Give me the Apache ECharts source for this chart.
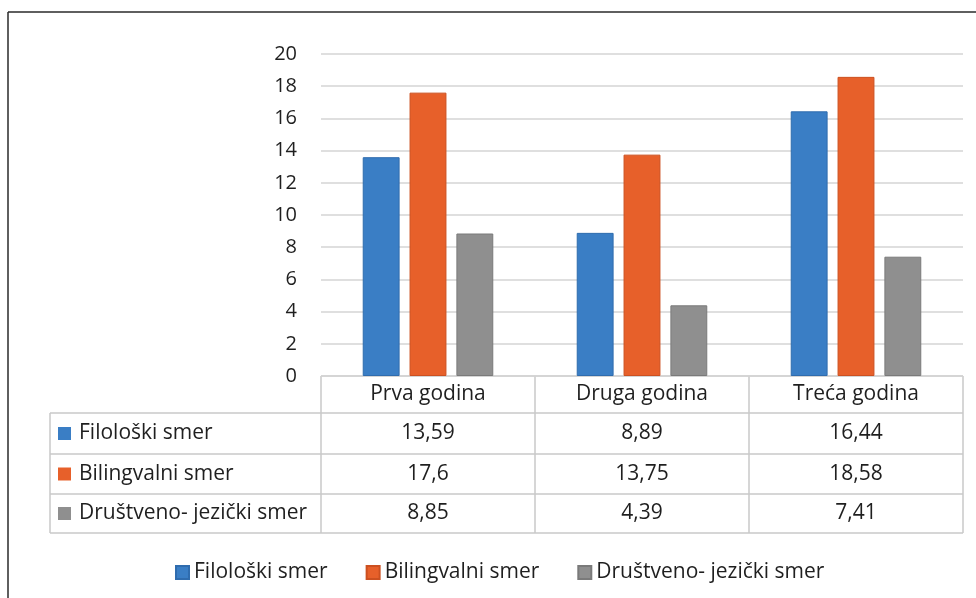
<!DOCTYPE html>
<html>
<head>
<meta charset="utf-8">
<script src="https://cdn.jsdelivr.net/npm/echarts@6/dist/echarts.min.js"></script>
<style>html,body{margin:0;padding:0;background:#fff;}#chart{width:976px;height:598px;}</style>
</head>
<body>
<div id="chart"></div>
<script>
const categories = ['Prva godina', 'Druga godina', 'Treća godina'];
const seriesNames = ['Filološki smer', 'Bilingvalni smer', 'Društveno- jezički smer'];
const filoloski = [13.59, 8.89, 16.44];
const bilingvalni = [17.6, 13.75, 18.58];
const drustveno = [8.85, 4.39, 7.41];
const yMin = 0, yMax = 20, yInterval = 2;

const colors = ['#3A7EC5', '#E7602A', '#8F8F8F'];
const borders = ['#2F6CAE', '#CC5020', '#7A7A7A'];
const seriesValues = [filoloski, bilingvalni, drustveno];

const FONT = '"Open Sans", sans-serif';
const FS = 21;
const AXFS = 20;
const TXT = '#1f1f1f';
const W = 976, H = 598;
const gridLeft = 321, gridRight = 963, gridTop = 54, gridBottom = 376;
const tableLeft = 50;
const rowEdges = [376, 413, 454, 494, 533];
const colW = (gridRight - gridLeft) / categories.length;
const lineColor = '#C8C8C8';

const fmt = v => String(v).replace('.', ',');

const chart = echarts.init(document.getElementById('chart'), null, {renderer: 'canvas'});

const g = [];
// outer frame
g.push({type: 'line', shape: {x1: 8, y1: 12, x2: W, y2: 12}, style: {stroke: '#2a2a2a', lineWidth: 1.5}, silent: true});
g.push({type: 'line', shape: {x1: 8, y1: 12, x2: 8, y2: H}, style: {stroke: '#2a2a2a', lineWidth: 1.5}, silent: true});
// table horizontal lines
g.push({type: 'line', shape: {x1: gridLeft, y1: rowEdges[0], x2: gridRight, y2: rowEdges[0]}, style: {stroke: lineColor, lineWidth: 1.5}});
for (let r = 1; r < rowEdges.length; r++) {
  g.push({type: 'line', shape: {x1: tableLeft, y1: rowEdges[r], x2: gridRight, y2: rowEdges[r]}, style: {stroke: lineColor, lineWidth: 1.5}});
}
// verticals
g.push({type: 'line', shape: {x1: tableLeft, y1: rowEdges[1], x2: tableLeft, y2: rowEdges[4]}, style: {stroke: lineColor, lineWidth: 1.5}});
for (let c = 0; c <= categories.length; c++) {
  const x = gridLeft + c * colW;
  g.push({type: 'line', shape: {x1: x, y1: rowEdges[0], x2: x, y2: rowEdges[4]}, style: {stroke: lineColor, lineWidth: 1.5}});
}
// header
categories.forEach((cat, c) => {
  g.push({type: 'text', x: gridLeft + (c + 0.5) * colW, y: (rowEdges[0] + rowEdges[1]) / 2,
    style: {text: cat, font: FS + 'px ' + FONT, fill: TXT, align: 'center', verticalAlign: 'middle'}});
});
// rows
seriesNames.forEach((name, r) => {
  const cy = (rowEdges[r + 1] + rowEdges[r + 2]) / 2;
  g.push({type: 'rect', shape: {x: 58, y: cy - 6.5, width: 13, height: 13}, style: {fill: colors[r]}});
  g.push({type: 'text', x: 79, y: cy, style: {text: name, font: FS + 'px ' + FONT, fill: TXT, align: 'left', verticalAlign: 'middle'}});
  seriesValues[r].forEach((v, c) => {
    g.push({type: 'text', x: gridLeft + (c + 0.5) * colW, y: cy,
      style: {text: fmt(v), font: FS + 'px ' + FONT, fill: TXT, align: 'center', verticalAlign: 'middle'}});
  });
});

chart.setOption({
  animation: false,
  textStyle: {fontFamily: FONT},
  grid: {left: gridLeft, right: W - gridRight, top: gridTop, bottom: H - gridBottom, containLabel: false},
  legend: {
    data: seriesNames, left: 170, top: 557, icon: 'rect', itemWidth: 13, itemHeight: 13, itemGap: 38,
    textStyle: {fontSize: FS, color: TXT, fontFamily: FONT}
  },
  xAxis: {
    type: 'category', data: categories,
    axisLine: {show: false}, axisTick: {show: false}, axisLabel: {show: false}, splitLine: {show: false}
  },
  yAxis: {
    type: 'value', min: yMin, max: yMax, interval: yInterval,
    axisLine: {show: false}, axisTick: {show: false},
    axisLabel: {fontSize: AXFS, color: TXT, margin: 24, fontFamily: FONT},
    splitLine: {lineStyle: {color: '#D4D4D4', width: 1.5}}
  },
  series: seriesNames.map((name, i) => ({
    name, type: 'bar', data: seriesValues[i],
    barGap: '27%', barCategoryGap: '39%',
    itemStyle: {color: colors[i], borderColor: borders[i], borderWidth: 1}
  })),
  graphic: g
});
</script>
</body>
</html>
